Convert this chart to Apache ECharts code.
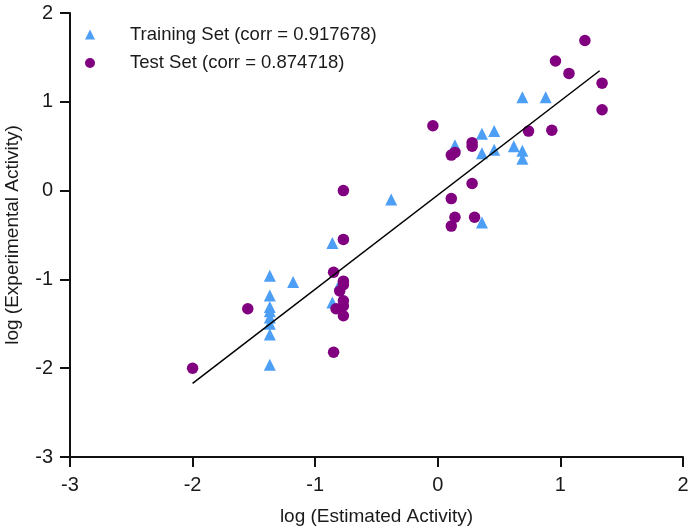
<!DOCTYPE html>
<html><head><meta charset="utf-8">
<script src="https://cdn.jsdelivr.net/npm/echarts@6/dist/echarts.min.js"></script>
<style>html,body{margin:0;padding:0;background:#fff}#c{width:689px;height:529px}</style>
</head><body><div id="c"></div>
<script>
var xTicks = [-3, -2, -1, 0, 1, 2];
var yTicks = [-3, -2, -1, 0, 1, 2];
var trainX = [0.69, 0.88, 0.36, 0.46, 0.14, 0.36, 0.46, 0.62, 0.69, 0.69, -0.38, 0.36, -0.86, -1.37, -1.18, -0.80, -1.37, -0.86, -1.37, -1.37, -1.37, -1.37, -1.37, -1.37];
var trainY = [1.05, 1.05, 0.64, 0.67, 0.51, 0.42, 0.46, 0.50, 0.45, 0.36, -0.10, -0.36, -0.59, -0.96, -1.03, -1.05, -1.18, -1.26, -1.31, -1.36, -1.43, -1.50, -1.62, -1.96];
var testX = [1.20, 0.96, 1.07, 1.34, 1.34, 0.93, 0.74, -0.04, 0.28, 0.28, 0.11, 0.14, 0.28, 0.11, 0.14, 0.30, 0.11, -0.77, -0.77, -0.85, -0.77, -0.77, -0.80, -0.77, -0.77, -0.83, -0.77, -1.55, -0.85, -2.00];
var testY = [1.69, 1.46, 1.32, 1.21, 0.91, 0.68, 0.67, 0.73, 0.54, 0.50, 0.40, 0.43, 0.08, -0.09, -0.30, -0.30, -0.40, 0.00, -0.55, -0.92, -1.02, -1.06, -1.13, -1.24, -1.30, -1.33, -1.41, -1.33, -1.82, -2.00];
var fitX = [-2.00, 1.32];
var fitY = [-2.17, 1.35];
var trainName = 'Training Set (corr = 0.917678)';
var testName = 'Test Set (corr = 0.874718)';

function zip(a, b) { return a.map(function (v, i) { return [v, b[i]]; }); }
var font = 'Liberation Sans';
var ink = '#1a1a1a';
var chart = echarts.init(document.getElementById('c'), null, {renderer: 'canvas'});
chart.setOption({
  animation: false,
  backgroundColor: '#fff',
  textStyle: {fontFamily: font},
  grid: {left: 70, right: 6, top: 13, bottom: 72, containLabel: false, outerBoundsMode: 'none'},
  legend: {
    orient: 'vertical', left: 85, top: 25, padding: 0, itemWidth: 10, itemHeight: 10, itemGap: 9.5,
    symbolKeepAspect: true,
    data: [trainName, testName],
    textStyle: {fontFamily: font, fontSize: 18.5, color: ink, padding: [0, 0, 0, 30]}
  },
  xAxis: {
    type: 'value', min: -3, max: 2, interval: 1,
    name: 'log (Estimated Activity)', nameLocation: 'middle', nameGap: 50,
    nameTextStyle: {fontFamily: font, fontSize: 19, color: ink},
    axisLine: {onZero: false, lineStyle: {color: '#111', width: 2}},
    axisTick: {show: true, inside: false, length: 10, lineStyle: {color: '#111', width: 2}},
    axisLabel: {fontFamily: font, fontSize: 20, color: ink, margin: 18,
      formatter: function (v) { return xTicks.indexOf(v) >= 0 ? String(v) : ''; }},
    splitLine: {show: false}
  },
  yAxis: {
    type: 'value', min: -3, max: 2, interval: 1,
    name: 'log (Experimental Activity)', nameLocation: 'middle', nameGap: 48, nameRotate: 90,
    nameTextStyle: {fontFamily: font, fontSize: 19, color: ink},
    axisLine: {show: true, onZero: false, lineStyle: {color: '#111', width: 2}},
    axisTick: {show: true, inside: false, length: 10, lineStyle: {color: '#111', width: 2}},
    axisLabel: {fontFamily: font, fontSize: 20, color: ink, margin: 17,
      formatter: function (v) { return yTicks.indexOf(v) >= 0 ? String(v) : ''; }},
    splitLine: {show: false}
  },
  series: [
    {name: trainName, type: 'scatter', symbol: 'triangle', symbolSize: 12, symbolKeepAspect: true,
      itemStyle: {color: '#4d9ff5', opacity: 1}, data: zip(trainX, trainY)},
    {name: testName, type: 'scatter', symbol: 'circle', symbolSize: 11.5, symbolKeepAspect: true,
      itemStyle: {color: '#800080', opacity: 1}, data: zip(testX, testY)},
    {name: 'fit', type: 'line', symbol: 'none', silent: true,
      lineStyle: {color: '#000', width: 1.5}, data: zip(fitX, fitY), z: 3}
  ]
});
</script></body></html>
